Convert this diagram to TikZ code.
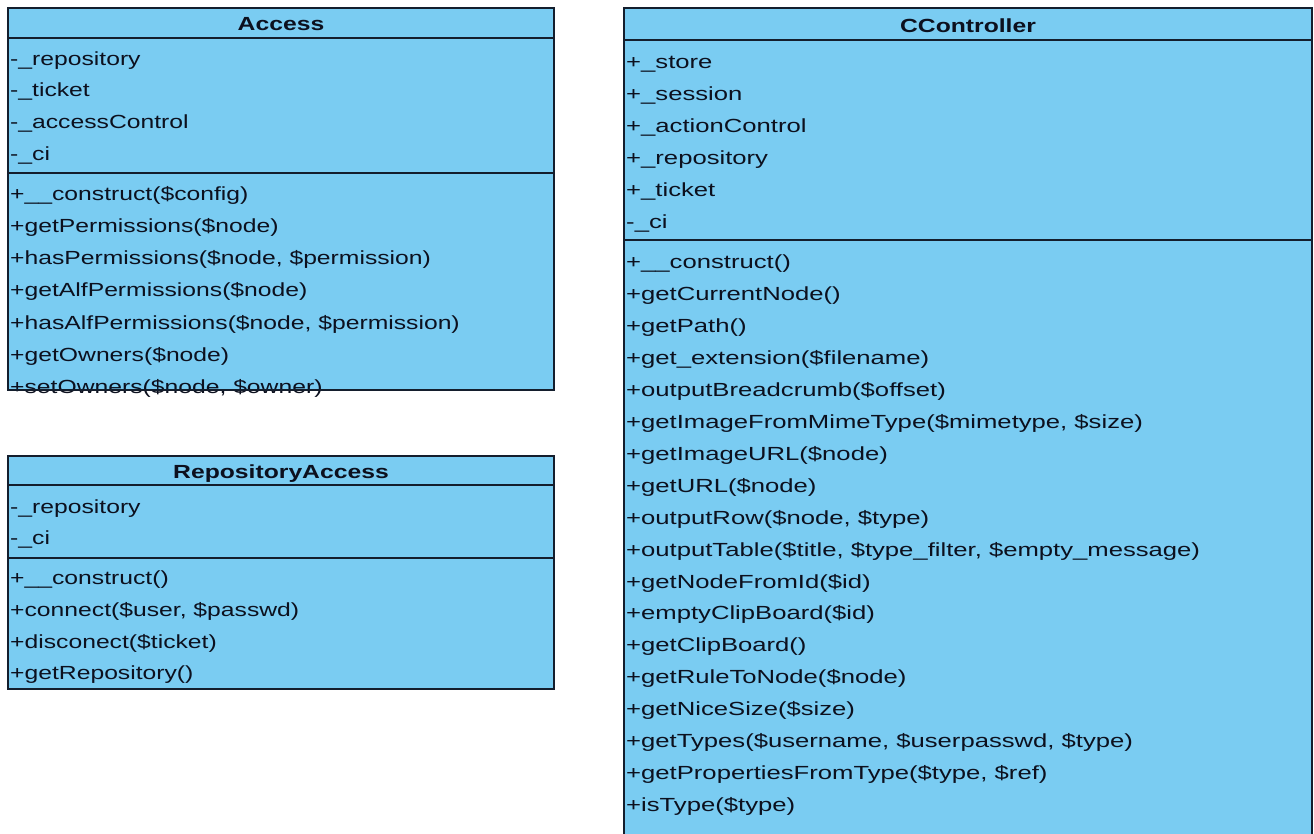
\documentclass[tikz,border=0pt]{standalone}
\usepackage{fontspec}
\setmainfont[FakeStretch=1.3]{Liberation Sans}
\newfontfamily\ccfont[FakeStretch=1.35]{Liberation Sans}
\definecolor{umlfill}{RGB}{122,204,242}
\definecolor{umlline}{RGB}{20,30,45}
\definecolor{umltext}{RGB}{12,16,30}
\begin{document}
\begin{tikzpicture}[x=1pt,y=-1pt,
  comp/.style={draw=umlline, fill=umlfill, line width=1.6pt, anchor=north west, inner sep=0pt, outer sep=0pt},
  mem/.style={anchor=base west, inner sep=0pt, text=umltext, font=\fontsize{19}{22}\selectfont},
  ccmem/.style={mem, font=\ccfont\fontsize{19}{22}\selectfont},
  ttl/.style={anchor=base, inner sep=0pt, text=umltext, font=\bfseries\fontsize{19}{22}\selectfont}]
\useasboundingbox (0,0) rectangle (1314,834);

% ---------- Access ----------
\node[comp, minimum width=546pt, minimum height=30pt]  (acch) at (8,8) {};
\node[comp, minimum width=546pt, minimum height=135pt] (acca) at (8,38) {};
\node[comp, minimum width=546pt, minimum height=217pt] (accm) at (8,173) {};
\node[ttl] (acct) at (281,31) {Access};
\node[mem] (acc1) at (10,66)  {-\_repository};
\node[mem] (acc2) at (10,97)  {-\_ticket};
\node[mem] (acc3) at (10,129) {-\_accessControl};
\node[mem] (acc4) at (10,161) {-\_ci};
\node[mem] (acc5) at (10,201) {+\_\_construct(\$config)};
\node[mem] (acc6) at (10,233) {+getPermissions(\$node)};
\node[mem] (acc7) at (10,265) {+hasPermissions(\$node, \$permission)};
\node[mem] (acc8) at (10,297) {+getAlfPermissions(\$node)};
\node[mem] (acc9) at (10,329) {+hasAlfPermissions(\$node, \$permission)};
\node[mem] (acc10) at (10,361) {+getOwners(\$node)};
\node[mem] (acc11) at (10,393) {+setOwners(\$node, \$owner)};
\draw[umlline, line width=1.6pt] (accm.south west) -- (accm.south east);

% ---------- RepositoryAccess ----------
\node[comp, minimum width=546pt, minimum height=29pt]  (reph) at (8,456) {};
\node[comp, minimum width=546pt, minimum height=73pt]  (repa) at (8,485) {};
\node[comp, minimum width=546pt, minimum height=131pt] (repm) at (8,558) {};
\node[ttl] (rept) at (281,478) {RepositoryAccess};
\node[mem] (rep1) at (10,513) {-\_repository};
\node[mem] (rep2) at (10,544) {-\_ci};
\node[mem] (rep3) at (10,584) {+\_\_construct()};
\node[mem] (rep4) at (10,616) {+connect(\$user, \$passwd)};
\node[mem] (rep5) at (10,648) {+disconect(\$ticket)};
\node[mem] (rep6) at (10,679) {+getRepository()};

% ---------- CController ----------
\node[comp, minimum width=688pt, minimum height=32pt]  (ccth) at (624,8) {};
\node[comp, minimum width=688pt, minimum height=200pt] (ccta) at (624,40) {};
\node[comp, minimum width=688pt, minimum height=600pt] (cctm) at (624,240) {};
\node[ttl] (cctt) at (968,33) {CController};
\node[ccmem] (cc1) at (626,69)  {+\_store};
\node[ccmem] (cc2) at (626,101) {+\_session};
\node[ccmem] (cc3) at (626,133) {+\_actionControl};
\node[ccmem] (cc4) at (626,165) {+\_repository};
\node[ccmem] (cc5) at (626,197) {+\_ticket};
\node[ccmem] (cc6) at (626,229) {-\_ci};
\node[ccmem] (cc7)  at (626,269.0) {+\_\_construct()};
\node[ccmem] (cc8)  at (626,300.9) {+getCurrentNode()};
\node[ccmem] (cc9)  at (626,332.8) {+getPath()};
\node[ccmem] (cc10) at (626,364.7) {+get\_extension(\$filename)};
\node[ccmem] (cc11) at (626,396.6) {+outputBreadcrumb(\$offset)};
\node[ccmem] (cc12) at (626,428.5) {+getImageFromMimeType(\$mimetype, \$size)};
\node[ccmem] (cc13) at (626,460.4) {+getImageURL(\$node)};
\node[ccmem] (cc14) at (626,492.3) {+getURL(\$node)};
\node[ccmem] (cc15) at (626,524.2) {+outputRow(\$node, \$type)};
\node[ccmem] (cc16) at (626,556.1) {+outputTable(\$title, \$type\_filter, \$empty\_message)};
\node[ccmem] (cc17) at (626,588.0) {+getNodeFromId(\$id)};
\node[ccmem] (cc18) at (626,619.9) {+emptyClipBoard(\$id)};
\node[ccmem] (cc19) at (626,651.8) {+getClipBoard()};
\node[ccmem] (cc20) at (626,683.7) {+getRuleToNode(\$node)};
\node[ccmem] (cc21) at (626,715.6) {+getNiceSize(\$size)};
\node[ccmem] (cc22) at (626,747.5) {+getTypes(\$username, \$userpasswd, \$type)};
\node[ccmem] (cc23) at (626,779.4) {+getPropertiesFromType(\$type, \$ref)};
\node[ccmem] (cc24) at (626,811.3) {+isType(\$type)};
\end{tikzpicture}
\end{document}
